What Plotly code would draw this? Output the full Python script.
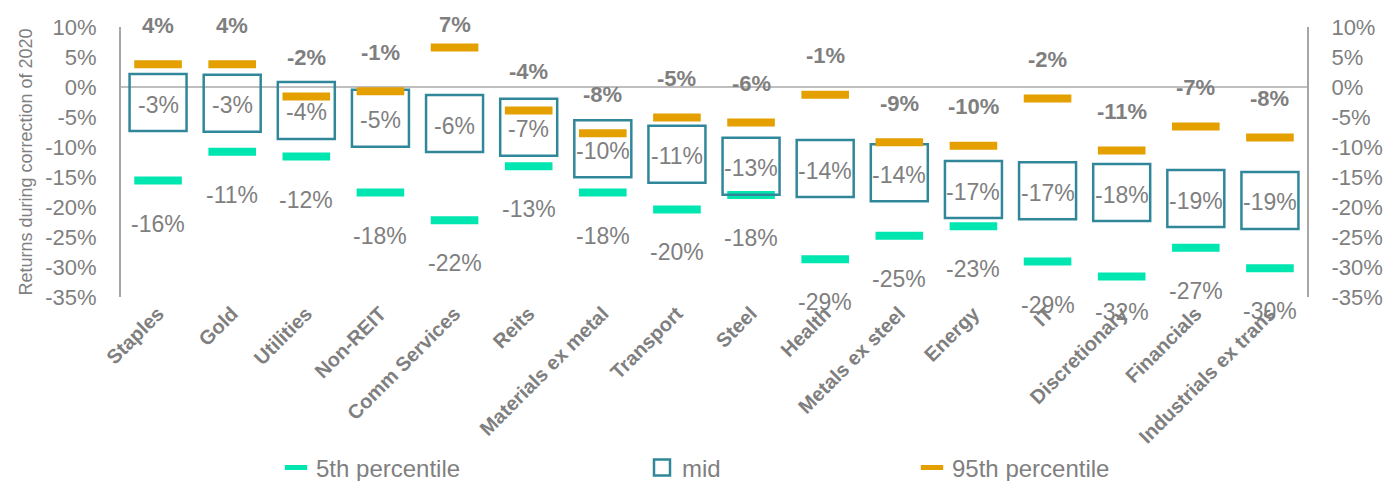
import plotly.graph_objects as go

categories = ["Staples", "Gold", "Utilities", "Non-REIT", "Comm Services", "Reits",
              "Materials ex metal", "Transport", "Steel", "Health", "Metals ex steel",
              "Energy", "IT", "Discretionary", "Financials", "Industrials ex trans"]
p95 = [3.8, 3.8, -1.6, -0.7, 6.6, -3.9, -7.7, -5.1, -5.9, -1.3, -9.2, -9.8, -1.9, -10.6, -6.6, -8.4]
mid = [-2.6, -2.7, -3.9, -5.2, -6.1, -6.7, -10.3, -11.2, -13.2, -13.6, -14.3, -17.1, -17.3, -17.6, -18.6, -18.9]
p5 = [-15.6, -10.8, -11.6, -17.6, -22.2, -13.2, -17.6, -20.4, -18.0, -28.7, -24.8, -23.2, -29.1, -31.6, -26.8, -30.2]
y_ticks = [10, 5, 0, -5, -10, -15, -20, -25, -30, -35]

W, H = 1387, 481
ML, MR, MT, MB = 121, 80, 27, 184
YMIN, YMAX = -35, 10
PX = (H - MT - MB) / (YMAX - YMIN)  # pixels per percentage point

GRAY = "#7F7F7F"
C5 = "#00E6B0"
CMID = "#31879A"
C95 = "#E3A000"
FONT = "Liberation Sans, Arial, sans-serif"

fig = go.Figure()
fig.add_trace(go.Scatter(x=categories, y=p5, mode="markers", name="5th percentile",
                         marker=dict(symbol="line-ew", size=34, color=C5,
                                     line=dict(width=8, color=C5)),
                         legend="legend"))
fig.add_trace(go.Scatter(x=categories, y=mid, mode="markers", name="mid",
                         marker=dict(symbol="square-open", size=57, color=CMID,
                                     line=dict(width=2.5, color=CMID)),
                         legend="legend2"))
fig.add_trace(go.Scatter(x=categories, y=p95, mode="markers", name="95th percentile",
                         marker=dict(symbol="line-ew", size=34, color=C95,
                                     line=dict(width=8, color=C95)),
                         legend="legend3"))

annotations = []
for c, a, m, b in zip(categories, p95, mid, p5):
    up = min(39, (10.4 - a) * PX)
    annotations.append(dict(x=c, y=a, text=f"{a:.0f}%", showarrow=False, yshift=up,
                            font=dict(family=FONT, size=22, color=GRAY, weight="bold")))
    annotations.append(dict(x=c, y=m, text=f"{m:.0f}%", showarrow=False, yshift=-2,
                            font=dict(family=FONT, size=23, color=GRAY)))
    down = max(-43, (-37.5 - b) * PX)
    annotations.append(dict(x=c, y=b, text=f"{b:.0f}%", showarrow=False, yshift=down,
                            font=dict(family=FONT, size=23, color=GRAY)))

LEG_Y = -(468 - (H - MB)) / (H - MT - MB)
PW = W - ML - MR
leg_font = dict(family=FONT, size=24, color=GRAY)

fig.update_layout(
    width=W, height=H,
    margin=dict(l=ML, r=MR, t=MT, b=MB, autoexpand=False),
    paper_bgcolor="white", plot_bgcolor="white",
    font=dict(family=FONT, color=GRAY),
    showlegend=True,
    annotations=annotations,
    xaxis=dict(type="category", range=[-0.5, len(categories) - 0.5], showgrid=False,
               showline=False, zeroline=False, tickangle=-45,
               tickfont=dict(family=FONT, size=20, color=GRAY, weight="bold")),
    yaxis=dict(range=[YMIN, YMAX], tickvals=y_ticks, ticktext=[f"{v}%" for v in y_ticks],
               showgrid=False, zeroline=True, zerolinecolor="#BFBFBF", zerolinewidth=2,
               showline=True, linecolor="#A6A6A6", linewidth=2,
               ticks="outside", ticklen=18, tickcolor="rgba(0,0,0,0)",
               tickfont=dict(family=FONT, size=22, color=GRAY),
               title=dict(text="Returns during correction of 2020", standoff=8,
                          font=dict(family=FONT, size=18, color=GRAY))),
    yaxis2=dict(range=[YMIN, YMAX], overlaying="y", side="right", tickvals=y_ticks,
                ticktext=[f"{v}%" for v in y_ticks], showgrid=False, zeroline=False,
                showline=True, linecolor="#A6A6A6", linewidth=2,
                ticks="outside", ticklen=18, tickcolor="rgba(0,0,0,0)",
                tickfont=dict(family=FONT, size=22, color=GRAY)),
    legend=dict(orientation="h", x=(276 - ML) / PW, xanchor="left", y=LEG_Y,
                yanchor="middle", font=leg_font, bgcolor="rgba(0,0,0,0)"),
    legend2=dict(orientation="h", x=(642 - ML) / PW, xanchor="left", y=LEG_Y,
                 yanchor="middle", font=leg_font, bgcolor="rgba(0,0,0,0)"),
    legend3=dict(orientation="h", x=(912 - ML) / PW, xanchor="left", y=LEG_Y,
                 yanchor="middle", font=leg_font, bgcolor="rgba(0,0,0,0)"),
)
# invisible trace so the right axis renders
fig.add_trace(go.Scatter(x=[categories[0]], y=[None], yaxis="y2", showlegend=False,
                         hoverinfo="skip"))

fig.write_html("out.html")
